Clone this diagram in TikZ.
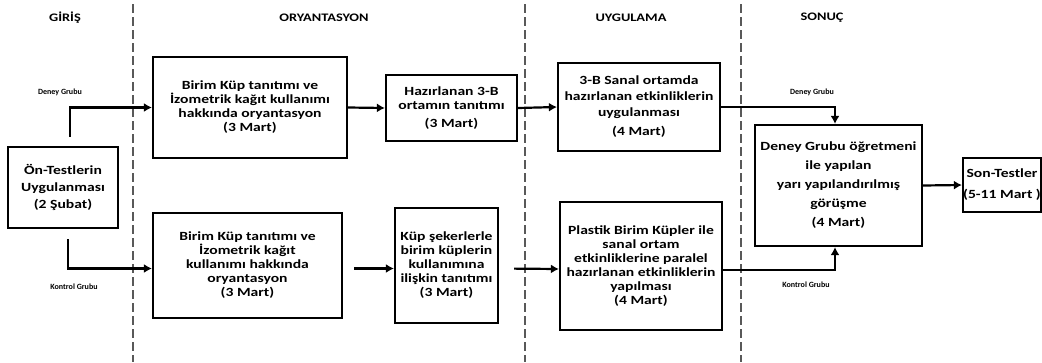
\documentclass[tikz,border=0pt]{standalone}
\usepackage{fontspec}
\setmainfont{Carlito}
\newfontfamily\wide{Carlito}[FakeStretch=1.25]
\usetikzlibrary{arrows.meta,calc}
\begin{document}
\begin{tikzpicture}[x=1pt,y=-1pt,
  box/.style={draw,line width=2.2pt,align=center,inner sep=2pt,font=\wide\fontsize{12.5}{14}\selectfont\bfseries},
  arr/.style={line width=2.2pt,-{Latex[length=8pt,width=9pt]}},
  lbl/.style={font=\fontsize{8}{9}\selectfont\bfseries},
  hdr/.style={font=\wide\fontsize{11.5}{12}\selectfont\bfseries},
  sep/.style={draw=gray!70!black,line width=1.8pt,dash pattern=on 9pt off 4pt}]
\useasboundingbox (0,0) rectangle (1042,362);
% separators
\draw[sep] (133,4) -- (133,362);
\draw[sep] (525,4) -- (525,362);
\draw[sep] (741,4) -- (741,362);
% headers
\node[hdr] (h1) at (65,18) {GİRİŞ};
\node[hdr] (h2) at (324,18) {ORYANTASYON};
\node[hdr] (h3) at (631,18) {UYGULAMA};
\node[hdr] (h4) at (822,18) {SONUÇ};
% boxes
\node[box,minimum width=110,minimum height=81,font=\wide\fontsize{12.5}{17}\selectfont\bfseries] (ont) at (63,187.5) {Ön-Testlerin\\Uygulanması\\(2 Şubat)};
\node[box,minimum width=194,minimum height=101] (b1) at (250,107.5) {Birim Küp tanıtımı ve\\İzometrik kağıt kullanımı\\hakkında oryantasyon\\(3 Mart)};
\node[box,minimum width=131,minimum height=66] (b2) at (451.5,108) {Hazırlanan 3-B\\ortamın tanıtımı\\[4pt](3 Mart)};
\node[box,minimum width=162,minimum height=88] (b3) at (639,107) {3-B Sanal ortamda\\[2pt]hazırlanan etkinliklerin\\[2pt]uygulanması\\[5pt](4 Mart)};
\node[box,minimum width=189,minimum height=105] (b4) at (247.5,265.5) {Birim Küp tanıtımı ve\\İzometrik kağıt\\kullanımı hakkında\\oryantasyon\\(3 Mart)};
\node[box,minimum width=103,minimum height=115] (b5) at (446.5,265.5) {Küp şekerlerle\\birim küplerin\\kullanımına\\ilişkin tanıtımı\\(3 Mart)};
\node[box,minimum width=162,minimum height=128] (b6) at (641,266) {Plastik Birim Küpler ile\\sanal ortam\\etkinliklerine paralel\\hazırlanan etkinliklerin\\yapılması\\(4 Mart)};
\node[box,minimum width=167,minimum height=121,font=\wide\fontsize{12.5}{19}\selectfont\bfseries] (sb) at (838.5,185.5) {Deney Grubu öğretmeni\\ile yapılan\\yarı yapılandırılmış\\görüşme\\(4 Mart)};
\node[box,minimum width=78,minimum height=54,inner sep=0pt,font=\wide\fontsize{12.5}{21}\selectfont\bfseries] (st) at (1002,185) {Son-Testler\\(5-11 Mart )};
% junction
\coordinate (dj) at (835,0);
% connectors
\draw[arr,shorten <=9pt] ([xshift=7pt]ont.north) |- (b1.west);
\draw[arr,shorten <=10pt] ([xshift=5pt]ont.south) |- ([yshift=-3pt]b4.west);
\draw[arr] (b1.east) -- (b2.west);
\draw[arr] (b2.east) -- (b3.west);
\draw[arr,shorten <=11pt] ([yshift=-3pt]b4.east) -- ([yshift=-3pt]b5.west);
\draw[arr,shorten <=15pt] ([yshift=-3pt]b5.east) -- ([yshift=-3pt]b6.west);
\draw[arr] (b3.east) -| (dj |- sb.north);
\draw[arr] ([yshift=-4pt]b6.east) -| (dj |- sb.south);
\draw[arr] (sb.east) -- (st.west);
% labels
\node[lbl] (l1) at (60,92) {Deney Grubu};
\node[lbl] (l2) at (74,287) {Kontrol Grubu};
\node[lbl] (l3) at (812,92) {Deney Grubu};
\node[lbl] (l4) at (806,285) {Kontrol Grubu};
\end{tikzpicture}
\end{document}
